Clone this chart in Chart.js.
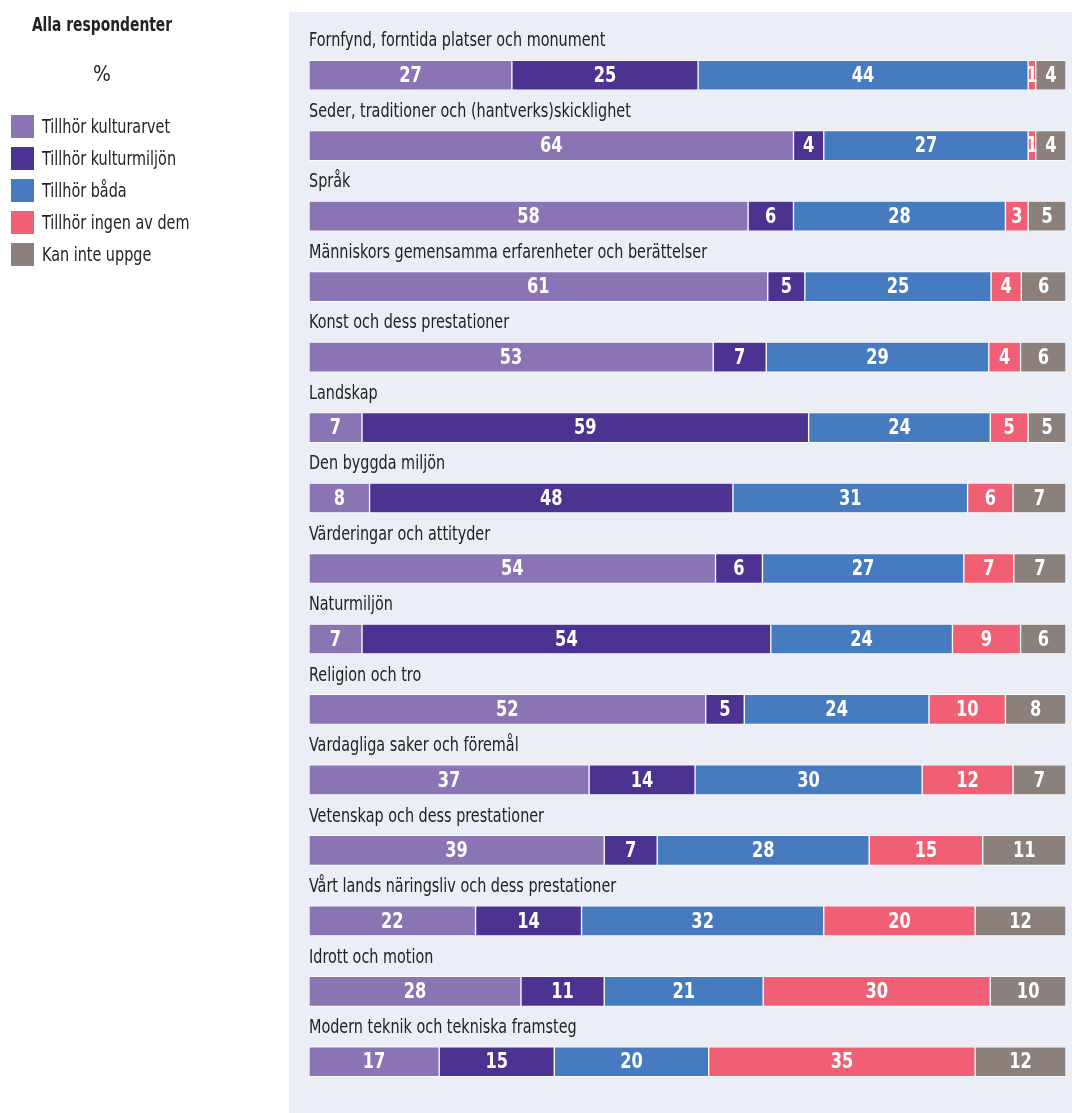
<!DOCTYPE html>
<html lang="sv">
<head>
<meta charset="utf-8">
<title>Kulturarv och kulturmiljö</title>
<script src="https://cdn.jsdelivr.net/npm/chart.js@4.4.1/dist/chart.umd.min.js"></script>
<style>
  html, body { margin: 0; padding: 0; background: #ffffff; }
  #wrap { position: relative; width: 1072px; height: 1113px; }
</style>
</head>
<body>
<div id="wrap"><canvas id="chart" width="1072" height="1113"></canvas></div>
<script>
// Categories (top to bottom)
const categories = [
  'Fornfynd, forntida platser och monument',
  'Seder, traditioner och (hantverks)skicklighet',
  'Språk',
  'Människors gemensamma erfarenheter och berättelser',
  'Konst och dess prestationer',
  'Landskap',
  'Den byggda miljön',
  'Värderingar och attityder',
  'Naturmiljön',
  'Religion och tro',
  'Vardagliga saker och föremål',
  'Vetenskap och dess prestationer',
  'Vårt lands näringsliv och dess prestationer',
  'Idrott och motion',
  'Modern teknik och tekniska framsteg'
];

const seriesNames = [
  'Tillhör kulturarvet',
  'Tillhör kulturmiljön',
  'Tillhör båda',
  'Tillhör ingen av dem',
  'Kan inte uppge'
];

// Shares in % (labels show rounded values)
const kulturarvet  = [26.8, 64, 58, 60.6, 53.4, 7, 8, 53.7, 7, 52.4, 37, 39, 22, 28, 17.2];
const kulturmiljon = [24.6, 4, 6, 4.9, 7.0, 59, 48, 6.2, 54, 5.1, 14, 7, 14, 11, 15.2];
const bada         = [43.6, 27, 28, 24.6, 29.4, 24, 31, 26.6, 24, 24.4, 30, 28, 32, 21, 20.4];
const ingen        = [1.0, 1, 3, 4.0, 4.2, 5, 6, 6.6, 9, 10.1, 12, 15, 20, 30, 35.2];
const kanInte      = [4.0, 4, 5, 5.9, 6.0, 5, 7, 6.9, 6, 8.0, 7, 11, 12, 10, 12.0];

const colors = ['#8a74b4', '#4c3392', '#477bbf', '#f15f74', '#8b807b'];

const FONT = '"DejaVu Sans Condensed", "Liberation Sans Narrow", "Roboto", sans-serif';

// the original uses a narrow face, so squeeze text horizontally
function squeezedText(ctx, text, x, y, sx) {
  ctx.save();
  ctx.translate(x, y);
  ctx.scale(sx, 1);
  ctx.fillText(text, 0, 0);
  ctx.restore();
}

const panelAndLegend = {
  id: 'panelAndLegend',
  beforeDraw(chart) {
    const ctx = chart.ctx;
    ctx.save();
    // light panel behind the bars
    ctx.fillStyle = '#eceef7';
    ctx.fillRect(289, 12, 1072 - 289, 1113 - 12);

    // left legend block
    ctx.fillStyle = '#222222';
    ctx.textAlign = 'center';
    ctx.textBaseline = 'middle';
    ctx.font = 'bold 20px ' + FONT;
    squeezedText(ctx, 'Alla respondenter', 102, 26, 0.77);
    ctx.font = '22px ' + FONT;
    squeezedText(ctx, '%', 102, 75, 0.95);

    ctx.textAlign = 'left';
    ctx.font = '20px ' + FONT;
    seriesNames.forEach((name, i) => {
      const y = 115 + i * 32;
      ctx.fillStyle = colors[i];
      ctx.fillRect(11, y, 23, 23);
      ctx.fillStyle = '#222222';
      squeezedText(ctx, name, 42, y + 13, 0.8);
    });
    ctx.restore();
  },
  afterDatasetsDraw(chart) {
    const ctx = chart.ctx;
    ctx.save();
    // category titles above each bar
    const yScale = chart.scales.y;
    ctx.fillStyle = '#222222';
    ctx.textAlign = 'left';
    ctx.textBaseline = 'middle';
    ctx.font = '20px ' + FONT;
    categories.forEach((c, i) => {
      squeezedText(ctx, c, chart.chartArea.left, yScale.getPixelForValue(i) - 34, 0.8);
    });

    // value labels inside the segments
    ctx.fillStyle = '#ffffff';
    ctx.textAlign = 'center';
    ctx.font = 'bold 22px ' + FONT;
    chart.data.datasets.forEach((ds, di) => {
      const meta = chart.getDatasetMeta(di);
      meta.data.forEach((bar, i) => {
        const cx = (bar.x + bar.base) / 2;
        squeezedText(ctx, String(Math.round(ds.data[i])), cx, bar.y + 1, 0.82);
      });
    });
    ctx.restore();
  }
};

const datasets = [kulturarvet, kulturmiljon, bada, ingen, kanInte].map((values, i) => ({
  label: seriesNames[i],
  data: values,
  backgroundColor: colors[i],
  borderColor: 'rgba(255,255,255,0.85)',
  borderWidth: 1,
  borderSkipped: false,
  barThickness: 30
}));

new Chart(document.getElementById('chart').getContext('2d'), {
  type: 'bar',
  data: { labels: categories, datasets: datasets },
  options: {
    indexAxis: 'y',
    responsive: false,
    animation: false,
    layout: { padding: { left: 309, right: 6, top: 40, bottom: 16 } },
    plugins: {
      legend: { display: false },
      tooltip: { enabled: false }
    },
    scales: {
      x: { stacked: true, min: 0, max: 100, display: false },
      y: { stacked: true, display: false }
    }
  },
  plugins: [panelAndLegend]
});
</script>
</body>
</html>
